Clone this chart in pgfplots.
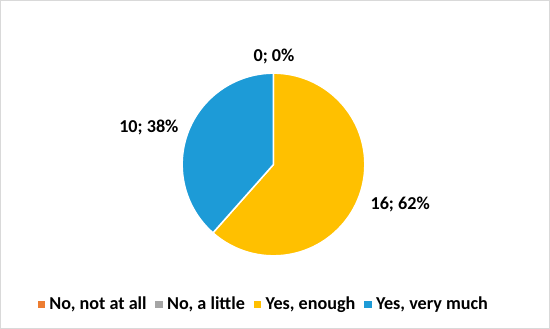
\documentclass[border=0pt]{standalone}
\usepackage{pgfplots}
\pgfplotsset{compat=1.18}
\usepackage{fontspec}
\setmainfont{Carlito}
\definecolor{cOrange}{RGB}{237,125,49}
\definecolor{cGray}{RGB}{165,165,165}
\definecolor{cYellow}{RGB}{255,192,0}
\definecolor{cBlue}{RGB}{29,155,215}
\begin{document}
\begin{tikzpicture}
% counts: No, not at all = 0; No, a little = 0; Yes, enough = 16; Yes, very much = 10
\def\vA{0}\def\vB{0}\def\vC{16}\def\vD{10}
\pgfmathsetmacro{\tot}{\vA+\vB+\vC+\vD}
\pgfmathsetmacro{\aB}{90-\vA/\tot*360}
\pgfmathsetmacro{\aC}{\aB-\vB/\tot*360}
\pgfmathsetmacro{\aD}{\aC-\vC/\tot*360}
\pgfmathsetmacro{\aE}{\aD-\vD/\tot*360}
\begin{axis}[
  scale only axis, width=550pt, height=333pt,
  xmin=0, xmax=550, ymin=0, ymax=333,
  hide axis, clip=false,
  legend style={at={(axis cs:264,29)}, anchor=center, draw=none, fill=none,
    font=\fontsize{18}{21}\selectfont\bfseries,
    /tikz/every odd column/.append style={column sep=3pt},
    /tikz/every even column/.append style={column sep=7pt}},
  legend columns=-1,
  legend cell align=left,
]
\path[draw=black!15, line width=1pt, fill=white] (axis cs:3,5) rectangle (axis cs:547,330);
\addlegendimage{only marks, mark=square*, mark size=3.2pt, color=cOrange}
\addlegendentry{No, not at all}
\addlegendimage{only marks, mark=square*, mark size=3.2pt, color=cGray}
\addlegendentry{No, a little}
\addlegendimage{only marks, mark=square*, mark size=3.2pt, color=cYellow}
\addlegendentry{Yes, enough}
\addlegendimage{only marks, mark=square*, mark size=3.2pt, color=cBlue}
\addlegendentry{Yes, very much}
\fill[cYellow, draw=white, line width=1.5pt] (axis cs:273.5,167.5) -- ++(\aC:90.5pt) arc[start angle=\aC, end angle=\aD, radius=90.5pt] -- cycle;
\fill[cBlue, draw=white, line width=1.5pt] (axis cs:273.5,167.5) -- ++(\aD:90.5pt) arc[start angle=\aD, end angle=\aE, radius=90.5pt] -- cycle;
\node[font=\fontsize{18}{21}\selectfont\bfseries] at (axis cs:274,275) {0; 0\%};
\node[font=\fontsize{18}{21}\selectfont\bfseries] at (axis cs:150,204) {10; 38\%};
\node[font=\fontsize{18}{21}\selectfont\bfseries] at (axis cs:399,128) {16; 62\%};
\end{axis}
\end{tikzpicture}
\end{document}
